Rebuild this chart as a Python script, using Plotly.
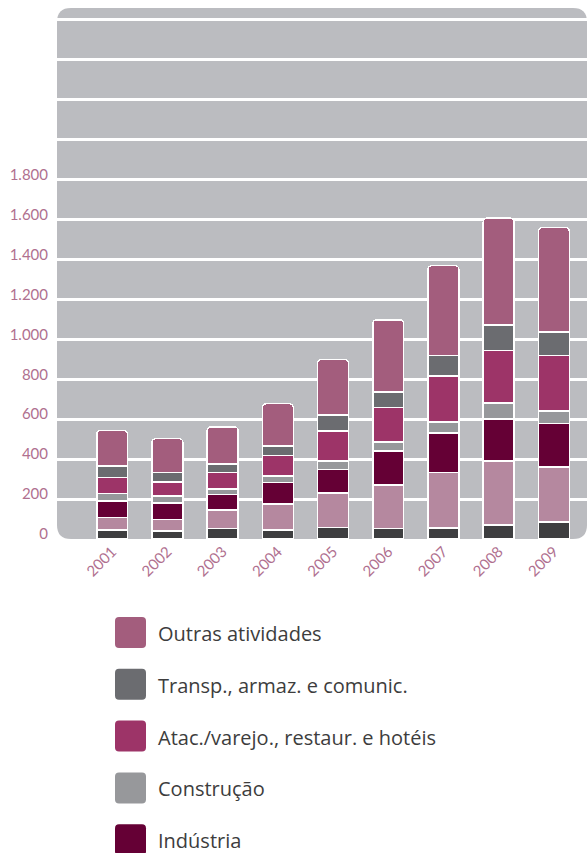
import plotly.graph_objects as go

# ---------------- data ----------------
years = ["2001", "2002", "2003", "2004", "2005", "2006", "2007", "2008", "2009"]

agropecuaria = [45, 40, 53, 45, 58, 53, 56, 70, 86]
intermediacao = [63, 58, 92, 131, 173, 217, 277, 322, 275]
industria = [83, 83, 78, 107, 117, 171, 198, 208, 217]
construcao = [37, 35, 27, 33, 43, 45, 55, 82, 62]
atacado = [80, 70, 83, 103, 150, 172, 230, 263, 280]
transporte = [58, 47, 42, 47, 79, 78, 104, 128, 116]
outras = [178, 170, 187, 212, 280, 362, 450, 535, 525]

# stacking order: bottom -> top
series_values = [agropecuaria, intermediacao, industria, construcao, atacado, transporte, outras]
series_names = [
    "Agropecuária",
    "Intermediação financeira",
    "Indústria",
    "Construção",
    "Atac./varejo., restaur. e hotéis",
    "Transp., armaz. e comunic.",
    "Outras atividades",
]
series_colors = ["#3e3e40", "#b5889f", "#650035", "#97989b", "#9d3468", "#6b6c70", "#a35d7d"]
# legend entries visible in the picture (top -> bottom)
legend_names = ["Outras atividades", "Transp., armaz. e comunic.",
                "Atac./varejo., restaur. e hotéis", "Construção", "Indústria"]

y_tickvals = [0, 200, 400, 600, 800, 1000, 1200, 1400, 1600, 1800, 2000, 2200, 2400, 2600]
y_ticktext = ["0", "200", "400", "600", "800", "1.000", "1.200", "1.400", "1.600", "1.800", "", "", "", ""]

# ---------------- style ----------------
W, H = 587, 853
PL, PR, PT, PB = 57, 587, 8, 539  # plot area pixel box
FONT = "Lato"
LEG_FONT = "Open Sans"
PINK = "#b0708f"
TEXT = "#3d3d3d"
BG = "#bbbcc0"

fig = go.Figure()
for vals, name, col in zip(series_values, series_names, series_colors):
    fig.add_trace(go.Bar(
        x=years, y=vals, name=name,
        marker=dict(color=col, line=dict(color="white", width=1.5)),
        width=0.56, showlegend=False,
    ))


def px_to_paper(px, py):
    return (px - PL) / (PR - PL), (PB - py) / (PB - PT)


def rounded_path(x0, y0, x1, y1, r):
    # pixel box -> rounded rectangle path in paper coordinates
    pts = lambda px, py: "%f,%f" % px_to_paper(px, py)
    return (
        "M " + pts(x0 + r, y0) + " L " + pts(x1 - r, y0) + " Q " + pts(x1, y0) + " " + pts(x1, y0 + r)
        + " L " + pts(x1, y1 - r) + " Q " + pts(x1, y1) + " " + pts(x1 - r, y1)
        + " L " + pts(x0 + r, y1) + " Q " + pts(x0, y1) + " " + pts(x0, y1 - r)
        + " L " + pts(x0, y0 + r) + " Q " + pts(x0, y0) + " " + pts(x0 + r, y0) + " Z"
    )


shapes = [dict(type="path", xref="paper", yref="paper", layer="below",
               path=rounded_path(PL, PT, PR, PB, 14), fillcolor=BG, line=dict(width=0))]

annotations = []
legend_top = 632.5
legend_step = 51.8
color_of = dict(zip(series_names, series_colors))
for i, name in enumerate(legend_names):
    cy = legend_top + i * legend_step
    shapes.append(dict(type="path", xref="paper", yref="paper", layer="above",
                       path=rounded_path(115, cy - 15.5, 146, cy + 15.5, 4),
                       fillcolor=color_of[name], line=dict(width=0)))
    ax, ay = px_to_paper(156, cy + 1)
    annotations.append(dict(xref="paper", yref="paper", x=ax, y=ay, xanchor="left", yanchor="middle",
                            text=name, showarrow=False, font=dict(family=LEG_FONT, size=20, color=TEXT)))

fig.update_layout(
    width=W, height=H, autosize=False,
    margin=dict(l=PL, r=W - PR, t=PT, b=H - PB, pad=0),
    paper_bgcolor="white", plot_bgcolor="rgba(0,0,0,0)",
    barmode="stack", barcornerradius=4,
    font=dict(family=FONT, color=PINK),
    shapes=shapes, annotations=annotations,
    xaxis=dict(type="category", range=[-1.0, 8.6], tickangle=-45, showgrid=False, zeroline=False,
               showline=False, ticks="", tickfont=dict(family=FONT, size=15, color=PINK)),
    yaxis=dict(range=[0, 2660], tickvals=y_tickvals, ticktext=y_ticktext, showgrid=True,
               gridcolor="white", gridwidth=2.5, zeroline=False, showline=False, ticks="",
               ticklabelshift=-5, ticklabelstandoff=8, tickfont=dict(family=FONT, size=15, color=PINK)),
)

fig.write_html("out.html")
